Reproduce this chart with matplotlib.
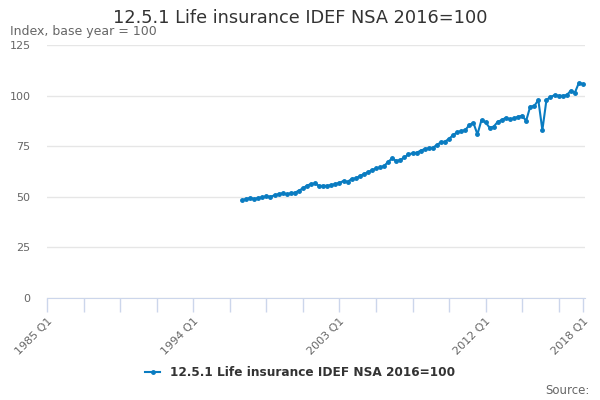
import matplotlib.pyplot as plt
import numpy as np

# quarterly series, 1997 Q1 .. 2018 Q1
start_year = 1997
values = [
    48.2, 48.9, 49.4, 48.9, 49.4, 49.7, 50.2, 50.0,   # 1997-1998
    50.7, 51.3, 51.7, 51.2, 51.7, 52.0, 53.0, 54.2,   # 1999-2000
    55.5, 56.3, 56.6, 55.3, 55.4, 55.4, 55.8, 56.3,   # 2001-2002
    56.9, 57.8, 57.4, 58.8, 59.1, 60.2, 61.2, 62.1,   # 2003-2004
    63.2, 64.0, 64.5, 65.2, 67.3, 69.0, 67.7, 68.2,   # 2005-2006
    69.5, 71.0, 71.5, 71.8, 72.8, 73.6, 74.0, 74.3,   # 2007-2008
    75.6, 77.0, 77.3, 78.7, 80.5, 81.9, 82.5, 83.0,   # 2009-2010
    85.5, 86.6, 80.9, 88.0, 86.8, 84.2, 84.7, 87.1,   # 2011-2012
    88.0, 89.1, 88.3, 88.8, 89.6, 90.1, 87.6, 94.6,   # 2013-2014
    94.9, 97.9, 83.0, 97.9, 99.4, 100.3, 100.0, 100.0,  # 2015-2016
    100.3, 102.5, 101.5, 106.4, 105.8,               # 2017-2018 Q1
]
series_name = '12.5.1 Life insurance IDEF NSA 2016=100'
title = '12.5.1 Life insurance IDEF NSA 2016=100'
subtitle = 'Index, base year = 100'
yticks = [0, 25, 50, 75, 100, 125]
labelled = ['1985 Q1', '1994 Q1', '2003 Q1', '2012 Q1', '2018 Q1']

x = start_year + np.arange(len(values)) / 4.0

fig = plt.figure(figsize=(6, 4), dpi=100)
ax = fig.add_axes([0.0788, 0.2558, 0.8955, 0.631])

blue = '#0a7cc1'
ax.plot(x, values, color=blue, lw=1.5, marker='o', ms=2.5, label=series_name)

ax.set_xlim(1985, 2018.1)
ax.set_ylim(0, 125)

# x ticks every 9 quarters, labels every 9 years plus the end
tick_pos = [1985 + 2.25 * k for k in range(15)] + [2018]
tick_lab = []
for k in range(15):
    tick_lab.append(labelled[k // 4] if k % 4 == 0 else '')
tick_lab.append(labelled[-1])
ax.set_xticks(tick_pos)
ax.set_xticklabels(tick_lab, rotation=45, ha='right', rotation_mode='anchor',
                   fontsize=8, color='#666666')
ax.tick_params(axis='x', length=10, color='#ccd6eb', width=1, pad=3)

ax.set_yticks(yticks)
ax.set_yticklabels([str(v) for v in yticks], fontsize=8, color='#666666')
ax.tick_params(axis='y', length=0, pad=12)
ax.grid(axis='y', color='#e6e6e6', lw=1)
ax.set_axisbelow(True)

for s in ['top', 'right', 'left']:
    ax.spines[s].set_visible(False)
ax.spines['bottom'].set_color('#ccd6eb')

fig.text(0.5, 0.955, title, ha='center', va='center', fontsize=12.8, color='#333333')
fig.text(0.017, 0.92, subtitle, ha='left', va='center', fontsize=9, color='#666666')

fig.legend(loc='center', bbox_to_anchor=(0.5, 0.068), frameon=False,
           prop={'size': 8.7, 'weight': 'bold'}, handlelength=1.3,
           labelcolor='#333333')
fig.text(0.982, 0.025, 'Source:', ha='right', va='center', fontsize=8.5, color='#666666')

fig.savefig('out.png', dpi=100)
